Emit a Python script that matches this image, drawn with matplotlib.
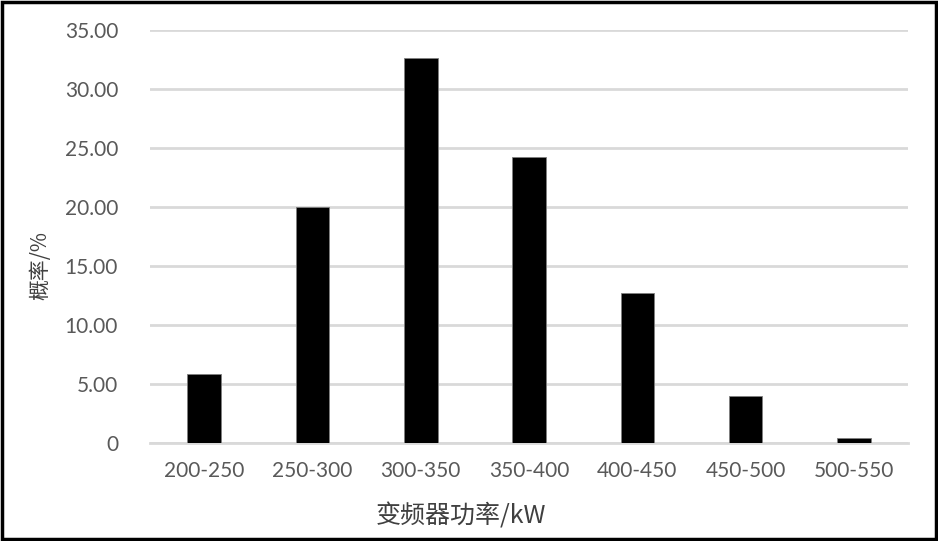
import matplotlib
matplotlib.use('Agg')
import matplotlib.pyplot as plt
from matplotlib.patches import Rectangle

plt.rcParams['font.family'] = ['Lato', 'Noto Sans CJK SC', 'DejaVu Sans']

categories = ['200-250', '250-300', '300-350', '350-400', '400-450', '450-500', '500-550']
probability = [5.85, 20.0, 32.6, 24.25, 12.7, 3.98, 0.42]
yticks = [0, 5, 10, 15, 20, 25, 30, 35]
ytick_labels = ['0', '5.00', '10.00', '15.00', '20.00', '25.00', '30.00', '35.00']

fig = plt.figure(figsize=(9.38, 5.41), dpi=100)
ax = fig.add_axes([0.16, 0.181, 0.808, 0.7635])

x = range(len(categories))
ax.bar(x, probability, width=0.31, color='black', edgecolor='#7f7f7f', linewidth=0.6, zorder=3)

ax.set_xlim(-0.5, len(categories) - 0.5)
ax.set_ylim(0, 35)
ax.set_yticks(yticks)
ax.set_yticklabels(ytick_labels)
ax.set_xticks(list(x))
ax.set_xticklabels(categories)
ax.grid(axis='y', color='#d9d9d9', linewidth=2, zorder=0)
for s in ['top', 'right', 'left']:
    ax.spines[s].set_visible(False)
ax.spines['bottom'].set_color('#d9d9d9')
ax.spines['bottom'].set_linewidth(2)
ax.tick_params(length=0, labelsize=15, colors='#595959')
ax.tick_params(axis='y', pad=23)
ax.tick_params(axis='x', pad=13)

ax.set_xlabel('变频器功率/kW', fontsize=18, color='#404040',
              family=['Noto Sans CJK SC', 'Lato'])
ax.xaxis.set_label_coords(0.41, -0.177)
ax.xaxis.label.set_va('center')
ax.set_ylabel('概率/%', fontsize=15, color='#404040',
              family=['Noto Sans CJK SC', 'Lato'])
ax.yaxis.set_label_coords(-0.145, 0.43)
ax.yaxis.label.set_va('center')

fig.patches.append(Rectangle((0.002, 0.003), 0.996, 0.994, transform=fig.transFigure,
                             fill=False, edgecolor='black', linewidth=2.5))

fig.savefig('out.png', dpi=100)
